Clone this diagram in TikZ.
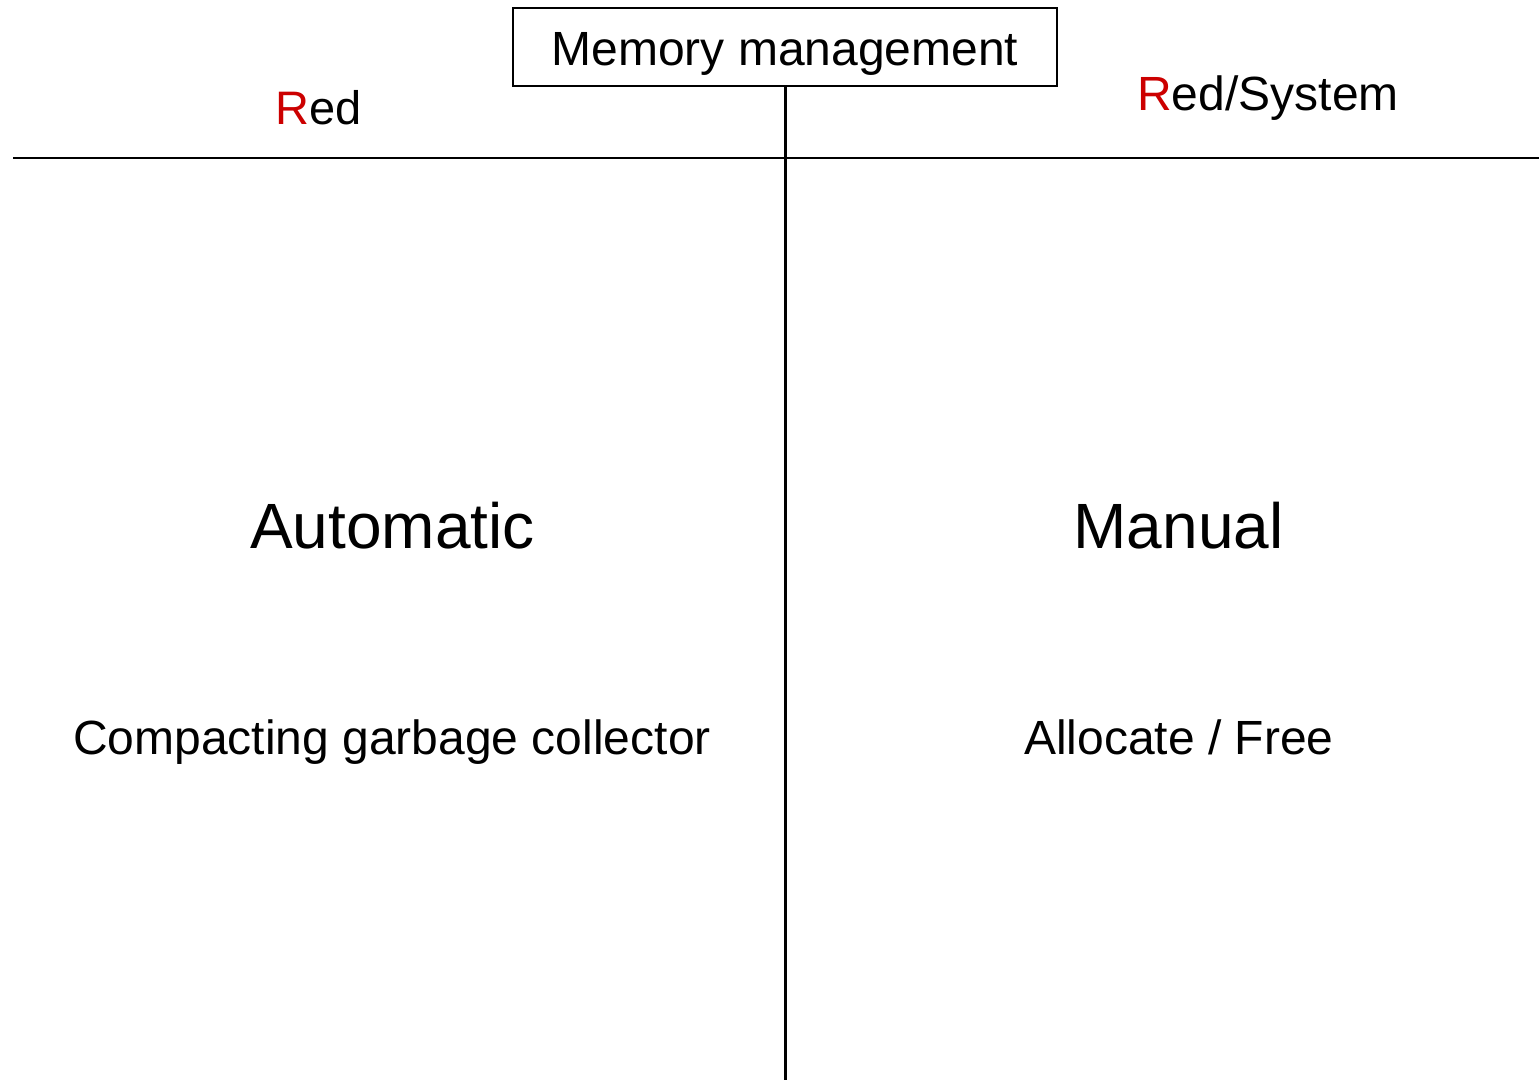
\documentclass[tikz,border=0pt]{standalone}
\usepackage{fontspec}
\setmainfont{Liberation Sans}
\definecolor{redmark}{HTML}{CC0000}
\begin{document}
\begin{tikzpicture}[x=1pt,y=-1pt,
  lbl/.style={anchor=base,inner sep=0pt,text=black},
  title/.style={draw=black,line width=1.5pt,minimum width=544pt,minimum height=78pt,
    inner sep=0pt,text height=40pt,text depth=4pt,font=\fontsize{48}{56}\selectfont},
  rule/.style={draw=black,line width=2pt},
  divider/.style={draw=black,line width=3pt}]
  \useasboundingbox (0,0) rectangle (1539,1080);
  \fill[white] (0,0) rectangle (1539,1080);

  % heading box
  \node[title] (mm) at (785,47) {Memory management};

  % column headers
  \node[lbl,font=\fontsize{47}{56}\selectfont] (red) at (319,124)
    {\textcolor{redmark}{R}ed};
  \node[lbl,font=\fontsize{48}{56}\selectfont] (redsys) at (1268,110)
    {\textcolor{redmark}{R}ed/System};

  % axes of the table
  \coordinate (hl) at (13,158);
  \coordinate (hr) at (1539,158);
  \coordinate (vb) at (785,1080);
  \draw[rule] (hl) -- (hr);
  \draw[divider] (mm.south) -- (vb);

  % column contents
  \node[lbl,font=\fontsize{64}{76}\selectfont] (auto) at (392.5,548) {Automatic};
  \node[lbl,font=\fontsize{64}{76}\selectfont] (manual) at (1178.5,548) {Manual};
  \node[lbl,font=\fontsize{48}{56}\selectfont] (gc) at (392,754) {Compacting garbage collector};
  \node[lbl,font=\fontsize{48}{56}\selectfont] (alloc) at (1179,754) {Allocate / Free};
\end{tikzpicture}
\end{document}
